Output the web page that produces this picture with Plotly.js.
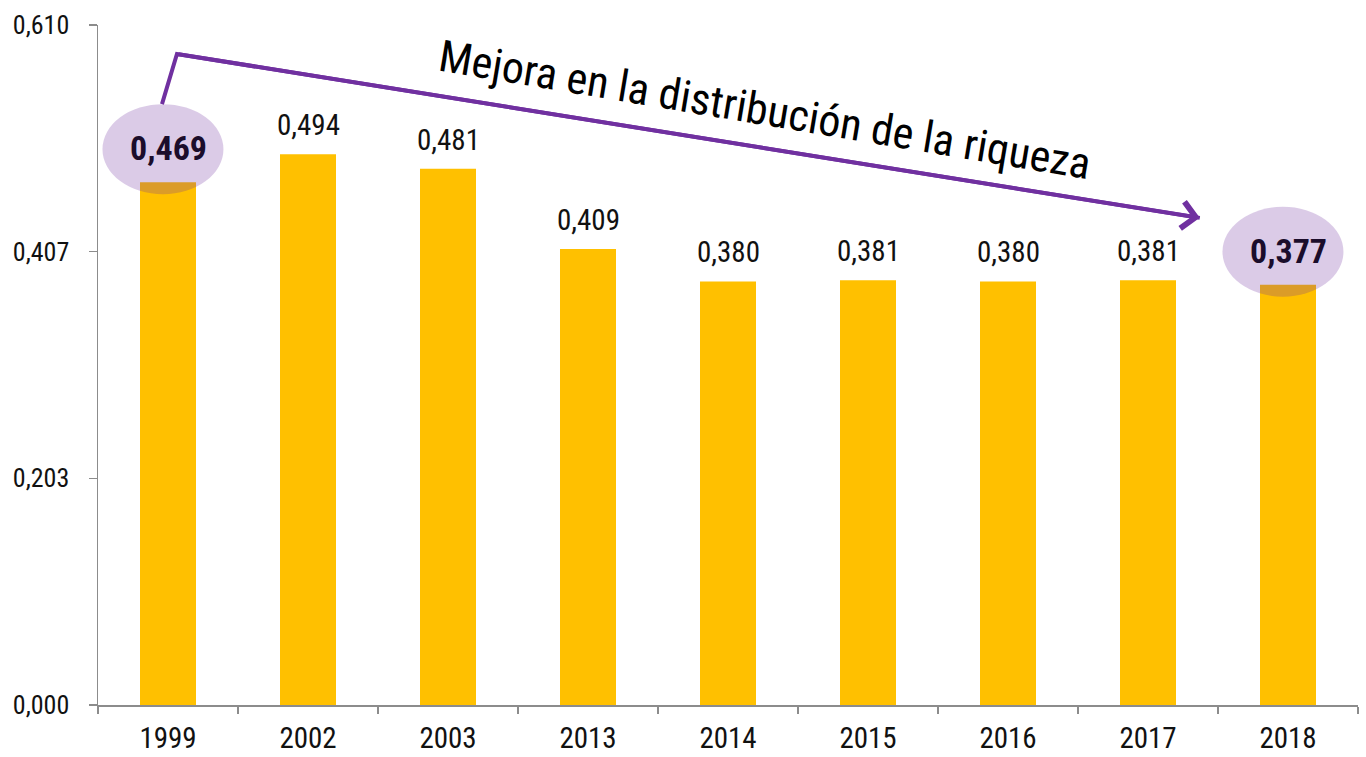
<!DOCTYPE html>
<html>
<head>
<meta charset="utf-8">
<script src="https://cdn.plot.ly/plotly-3.0.1.min.js"></script>
<style>html,body{margin:0;padding:0;background:#fff;}#chart{width:1366px;height:757px;}</style>
</head>
<body>
<div id="chart"></div>
<script>
const years = ['1999','2002','2003','2013','2014','2015','2016','2017','2018'];
const gini = [0.469, 0.494, 0.481, 0.409, 0.380, 0.381, 0.380, 0.381, 0.377];
const highlighted = ['1999','2018'];
const yTicks = [0, 0.610/3, 0.610*2/3, 0.610];
const arrowLabel = 'Mejora en la distribución de la riqueza';

const FONT = '"Roboto Condensed", "Liberation Sans Narrow", "Arial Narrow", sans-serif';
const fmt = v => v.toFixed(3).replace('.', ',');
const purple = '#7030A0';

const annotations = [];
const shapes = [];

years.forEach((yr, i) => {
  const v = gini[i];
  if (highlighted.includes(yr)) {
    shapes.push({
      type: 'circle', xref: 'x', yref: 'y', layer: 'above',
      x0: i - 0.036 - 0.432, x1: i - 0.036 + 0.432,
      y0: v + 0.0296 - 0.0404, y1: v + 0.0296 + 0.0404,
      fillcolor: 'rgba(112,48,160,0.25)', line: {width: 0}
    });
    annotations.push({
      x: i, y: v, xref: 'x', yref: 'y', text: '<b>' + fmt(v) + '</b>',
      showarrow: false, yanchor: 'middle', yshift: 34,
      font: {family: FONT, size: 34, color: '#1b0d2b'}
    });
  } else {
    annotations.push({
      x: i, y: v, xref: 'x', yref: 'y', text: fmt(v),
      showarrow: false, yanchor: 'middle', yshift: 29,
      font: {family: FONT, size: 29, color: '#111'}
    });
  }
});

// Bent arrow from the first highlighted bar to the last
const iA = 0, iB = years.length - 1;
const pA = {x: iA - 0.043, y: gini[iA] + 0.070};
const pB = {x: iA + 0.064, y: gini[iA] + 0.115};
const pC = {x: iB - 0.63, y: gini[iB] + 0.060};
shapes.push({
  type: 'path', xref: 'x', yref: 'y', layer: 'above',
  path: `M${pA.x},${pA.y} L${pB.x},${pB.y} L${pC.x},${pC.y}`,
  line: {color: purple, width: 4}
});
annotations.push({
  x: pC.x, y: pC.y, ax: pB.x, ay: pB.y, xref: 'x', yref: 'y', axref: 'x', ayref: 'y',
  text: '', showarrow: true, arrowhead: 4, arrowsize: 1.3, arrowwidth: 4, arrowcolor: purple
});
annotations.push({
  x: 4.264, y: 0.5338, xref: 'x', yref: 'y', text: arrowLabel,
  showarrow: false, textangle: 9.5, xanchor: 'center', yanchor: 'middle',
  font: {family: FONT, size: 44, color: '#000'}
});

const trace = {
  type: 'bar', x: years, y: gini,
  marker: {color: '#FFC000'}, hoverinfo: 'skip'
};

const layout = {
  width: 1366, height: 757,
  margin: {l: 98, r: 8, t: 25, b: 52},
  paper_bgcolor: '#fff', plot_bgcolor: '#fff',
  separators: ',.',
  bargap: 0.6,
  showlegend: false,
  font: {family: FONT, color: '#111'},
  xaxis: {
    type: 'category', range: [-0.5, years.length - 0.5], autorange: false,
    showgrid: false, zeroline: false,
    showline: true, linecolor: '#8c8c8c', linewidth: 1.5,
    ticks: 'outside', tickson: 'boundaries', ticklen: 7, tickcolor: '#8c8c8c', tickwidth: 1.5,
    tickangle: 0, ticklabelstandoff: 7,
    tickfont: {family: FONT, size: 29, color: '#111'}
  },
  yaxis: {
    range: [0, 0.610], autorange: false, showgrid: false, zeroline: false,
    showline: true, linecolor: '#8c8c8c', linewidth: 1.5,
    ticks: 'outside', ticklen: 8, tickcolor: '#8c8c8c', tickwidth: 1.5,
    tickvals: yTicks, tickformat: '.3f', ticklabelstandoff: 14,
    tickfont: {family: FONT, size: 26, color: '#111'}
  },
  shapes: shapes,
  annotations: annotations
};

Plotly.newPlot('chart', [trace], layout, {staticPlot: true, displayModeBar: false});
</script>
</body>
</html>
